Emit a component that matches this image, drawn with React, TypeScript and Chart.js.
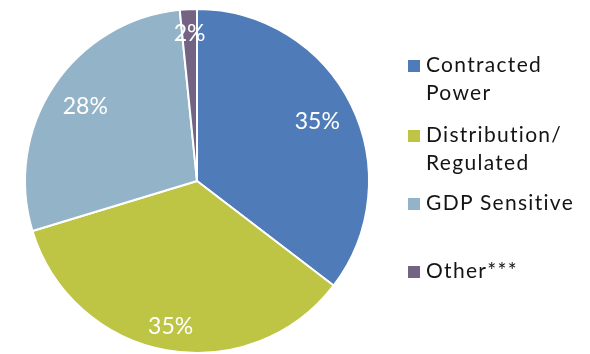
import React, { useEffect, useRef } from "react";
import { Chart, registerables } from "chart.js";

Chart.register(...registerables);

const categories = ["Contracted Power", "Distribution/ Regulated", "GDP Sensitive", "Other***"];
const legendLines = [["Contracted", "Power"], ["Distribution/", "Regulated"], ["GDP Sensitive"], ["Other***"]];
const values = [35.4, 34.9, 28.1, 1.6];
const percentLabels = ["35%", "35%", "28%", "2%"];
const colors = ["#4F7CB8", "#BEC443", "#93B4C8", "#736483"];
const labelRadius = [0.78, 0.86, 0.78, 0.86];
const legendCapCenters = [64, 134, 202.5, 270.5];

const labelPlugin = {
  id: "pctLabels",
  afterDatasetsDraw(chart: any) {
    const ctx = chart.ctx;
    const meta = chart.getDatasetMeta(0);
    ctx.save();
    ctx.fillStyle = "#ffffff";
    ctx.font = "23px Lato";
    ctx.textAlign = "center";
    ctx.textBaseline = "middle";
    meta.data.forEach((arc: any, i: number) => {
      const { x, y, startAngle, endAngle, outerRadius } = arc.getProps(
        ["x", "y", "startAngle", "endAngle", "outerRadius"],
        true
      );
      const a = (startAngle + endAngle) / 2;
      const r = outerRadius * labelRadius[i];
      ctx.fillText(percentLabels[i], x + Math.cos(a) * r, y + Math.sin(a) * r);
    });
    ctx.restore();
  },
};

export default function App() {
  const ref = useRef<HTMLCanvasElement>(null);
  useEffect(() => {
    if (!ref.current) return;
    const chart = new Chart(ref.current, {
      type: "pie",
      data: {
        labels: categories,
        datasets: [
          {
            data: values,
            backgroundColor: colors,
            borderColor: "#ffffff",
            borderWidth: 2,
          },
        ],
      },
      options: {
        animation: false,
        responsive: false,
        maintainAspectRatio: false,
        layout: { padding: { top: 8, bottom: 0, left: 24, right: 220 } },
        plugins: { legend: { display: false }, tooltip: { enabled: false } },
      },
      plugins: [labelPlugin],
    });
    return () => chart.destroy();
  }, []);

  return (
    <div style={{ position: "fixed", left: 0, top: 0, width: 590, height: 354, background: "#fff" }}>
      <canvas ref={ref} width={590} height={354} style={{ position: "absolute", left: 0, top: 0 }} />
      {categories.map((c, i) => (
        <div
          key={c}
          style={{
            position: "absolute",
            left: 408,
            top: legendCapCenters[i] - 14.5,
            fontFamily: "Lato",
            fontSize: 21,
            lineHeight: "28px",
            letterSpacing: "1.3px",
            color: "#141414",
          }}
        >
          <div
            style={{
              position: "absolute",
              left: 0,
              top: 10,
              width: 12,
              height: 12,
              background: colors[i],
            }}
          />
          <div style={{ marginLeft: 18, whiteSpace: "nowrap" }}>
            {legendLines[i].map((l) => (
              <div key={l}>{l}</div>
            ))}
          </div>
        </div>
      ))}
    </div>
  );
}
